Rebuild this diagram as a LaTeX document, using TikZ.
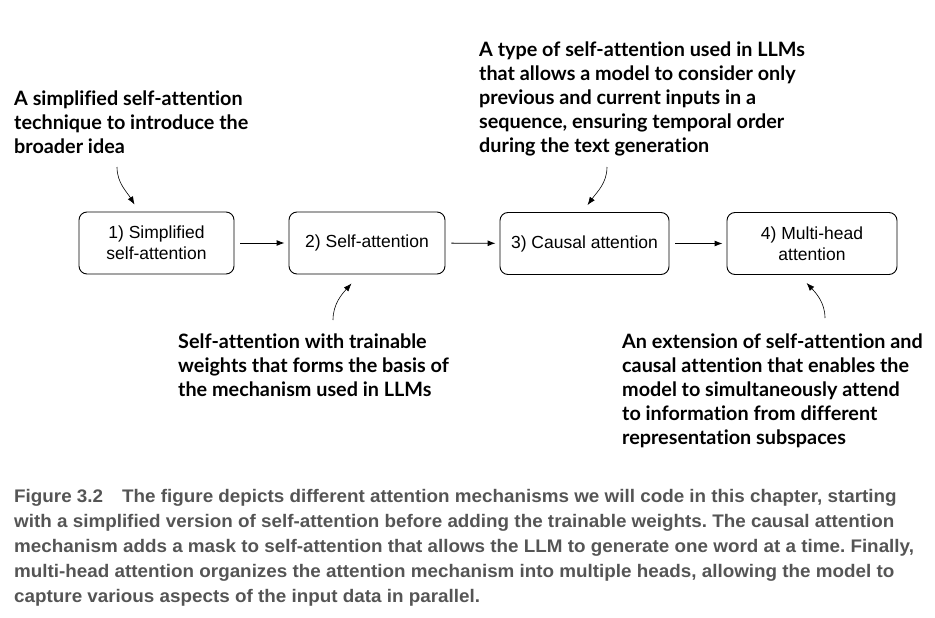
\documentclass[tikz,border=0pt]{standalone}
\usepackage{fontspec}
\setmainfont{Liberation Sans}
\newfontfamily\notefont[Ligatures=NoCommon]{Lato}
\newfontfamily\capfont[FakeStretch=1.035]{Liberation Sans}
\usetikzlibrary{arrows.meta}
\definecolor{capgray}{RGB}{85,85,85}
\frenchspacing

\tikzstyle{stage}=[draw=black,line width=0.9pt,rounded corners=8pt,minimum height=62pt,inner sep=0pt,align=center,font=\fontsize{17.5}{21}\selectfont]
\tikzstyle{note}=[anchor=north west,inner sep=0pt,align=left,font=\notefont\bfseries\fontsize{19.8}{23.8}\selectfont]
\tikzstyle{flow}=[->,line width=0.9pt,shorten <=6pt,shorten >=4pt]
\tikzstyle{hint}=[->,line width=0.6pt]
\tikzset{>={Latex[length=8pt,width=6pt]}}

\begin{document}
\begin{tikzpicture}[x=1pt,y=-1pt]
  \useasboundingbox (0,0) rectangle (935,618);
  % Stages
  \node[stage,minimum width=155pt] (simp) at (156.5,243) {1) Simplified\\self-attention};
  \node[stage,minimum width=156pt] (self) at (367,243) {2) Self-attention};
  \node[stage,minimum width=169pt] (causal) at (584.5,243.5) {3) Causal attention};
  \node[stage,minimum width=170pt] (multi) at (812,243.5) {4) Multi-head\\attention};

  \draw[flow] (simp) -- (self);
  \draw[flow] (self) -- (causal);
  \draw[flow] (causal) -- (multi);

  % Notes
  \node[note] (nsimp) at (14,91) {A simplified self-attention\\technique to introduce the\\broader idea};
  \node[note] (ncausal) at (479,42) {A type of self-attention used in LLMs\\that allows a model to consider only\\previous and current inputs in a\\sequence, ensuring temporal order\\during the text generation};
  \node[note] (nself) at (178,334) {Self-attention with trainable\\weights that forms the basis of\\the mechanism used in LLMs};
  \node[note] (nmulti) at (622,334) {An extension of self-attention and\\causal attention that enables the\\model to simultaneously attend\\to information from different\\representation subspaces};

  \coordinate (hsimp) at (117,167);
  \coordinate (hcausal) at (607,167);
  \coordinate (hself) at (333,320);
  \coordinate (hmulti) at (825,318);
  \draw[hint] (hsimp) .. controls (117,183) and (127,192) .. ([xshift=56pt,yshift=7pt]simp.north west);
  \draw[hint] (hcausal) .. controls (607,183) and (597,192) .. ([xshift=88pt,yshift=7pt]causal.north west);
  \draw[hint] (hself) .. controls (333,304) and (342,294) .. ([xshift=63pt,yshift=-9pt]self.south west);
  \draw[hint] (hmulti) .. controls (825,302) and (815,292) .. ([xshift=80pt,yshift=-8pt]multi.south west);

  % Caption
  \node[anchor=north west,inner sep=0pt,align=left,text=capgray,font=\capfont\bfseries\fontsize{18.2}{25}\selectfont] (cap) at (14,489)
  {Figure 3.2\hspace{19pt}The figure depicts different attention mechanisms we will code in this chapter, starting\\
   with a simplified version of self-attention before adding the trainable weights. The causal attention\\
   mechanism adds a mask to self-attention that allows the LLM to generate one word at a time. Finally,\\
   multi-head attention organizes the attention mechanism into multiple heads, allowing the model to\\
   capture various aspects of the input data in parallel.};
\end{tikzpicture}
\end{document}
